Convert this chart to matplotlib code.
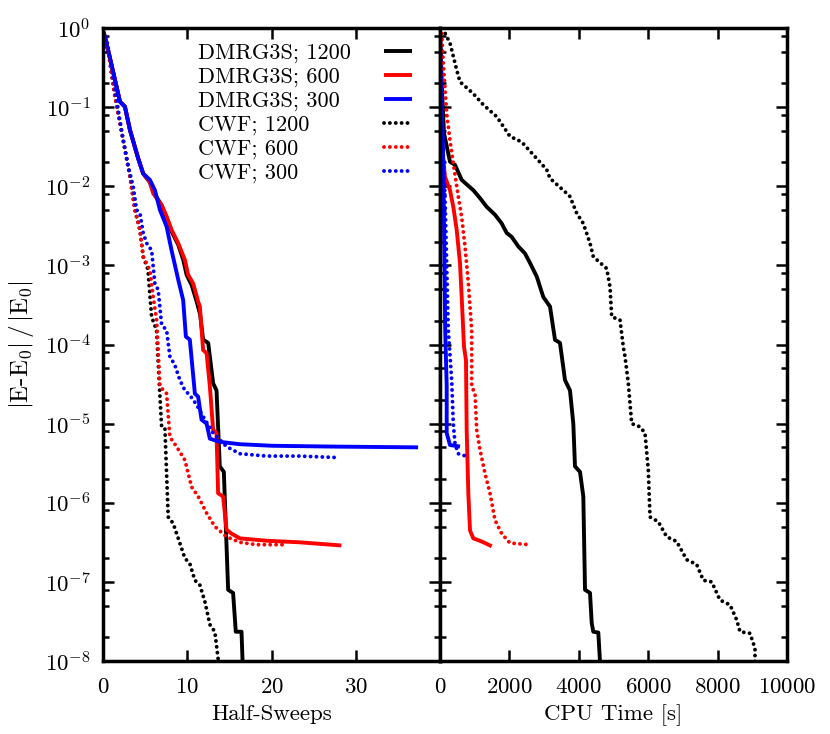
import numpy as np
import matplotlib
matplotlib.use('Agg')
from matplotlib import pyplot as plt
from matplotlib.ticker import NullLocator, FixedLocator

# Fonts: computer-modern look like the gnuplot/latex original
plt.rcParams['font.family'] = ['cmr10']
plt.rcParams['mathtext.fontset'] = 'cm'
plt.rcParams['axes.unicode_minus'] = False
plt.rcParams['axes.formatter.use_mathtext'] = True

# Values: x and log10(|E-E0|/|E0|)
# ---- left panel: half-sweeps ----
sw_dmrg_1200 = [0, 0.2, 1.98, 2.57, 3.17, 4.15, 4.74, 5.54, 5.93, 6.93, 7.52, 8.11, 8.9, 9.5, 9.9,
                10.5, 11.1, 11.5, 11.86, 12.46, 13.05, 13.45, 13.84, 14.32, 14.83, 15.42, 15.74,
                16.42, 16.54, 16.6]
lg_dmrg_1200 = [-0.05, -0.11, -0.93, -0.995, -1.29, -1.65, -1.84, -1.95, -2.07, -2.24, -2.40, -2.57,
                -2.74, -2.93, -3.12, -3.25, -3.46, -3.62, -3.94, -3.98, -4.49, -4.58, -5.54, -5.61,
                -7.10, -7.14, -7.63, -7.63, -7.99, -8.2]
sw_dmrg_600 = [0, 0.2, 1.98, 2.57, 3.17, 4.15, 4.74, 5.54, 5.93, 6.93, 7.52, 8.11, 8.9, 9.69, 10.08,
               10.68, 11.27, 11.47, 11.86, 12.27, 12.66, 13.05, 13.45, 13.64, 14.23, 14.64, 15.23,
               16.22, 19.38, 23.33, 28.28]
lg_dmrg_600 = [-0.05, -0.11, -0.93, -0.995, -1.29, -1.65, -1.84, -1.95, -2.09, -2.24, -2.38, -2.55,
               -2.72, -2.93, -3.12, -3.23, -3.46, -3.52, -4.07, -4.11, -4.53, -5.08, -5.12, -5.88,
               -5.92, -6.34, -6.39, -6.45, -6.48, -6.50, -6.54]
sw_dmrg_300 = [0, 0.2, 1.98, 2.57, 3.17, 4.15, 4.74, 5.54, 6.13, 6.73, 7.52, 8.11, 8.9, 9.49, 9.81,
               10.28, 10.88, 11.27, 11.67, 12.27, 12.66, 13.84, 16.2, 20.1, 27.2, 37.4]
lg_dmrg_300 = [-0.05, -0.11, -0.93, -0.995, -1.29, -1.65, -1.84, -1.92, -2.05, -2.30, -2.51, -2.81,
               -3.18, -3.44, -3.90, -3.94, -4.62, -4.66, -4.95, -5.0, -5.19, -5.23, -5.26, -5.28,
               -5.29, -5.30]
sw_cwf_1200 = [0, 0.4, 1.39, 2.37, 3.17, 3.76, 4.35, 4.74, 5.3, 5.74, 6.33, 6.73, 6.93, 7.32, 7.71,
               8.3, 8.9, 9.69, 10.28, 10.88, 11.47, 12.07, 12.66, 13.25, 13.64, 13.7]
lg_cwf_1200 = [-0.05, -0.15, -0.87, -1.42, -1.88, -2.30, -2.55, -2.89, -3.05, -3.65, -3.82, -4.66,
               -5.04, -5.06, -6.18, -6.26, -6.45, -6.70, -6.77, -6.98, -7.04, -7.25, -7.54, -7.63,
               -7.97, -8.2]
sw_cwf_600 = [0, 0.4, 1.39, 2.37, 3.17, 3.76, 4.35, 4.74, 5.54, 5.93, 6.33, 6.73, 7.52, 7.91, 8.7,
              9.69, 10.49, 11.27, 12.27, 13.25, 14.64, 16.22, 18.2, 21.55]
lg_cwf_600 = [-0.05, -0.15, -0.87, -1.42, -1.88, -2.30, -2.55, -2.89, -3.06, -3.40, -3.69, -4.53,
              -4.62, -5.17, -5.29, -5.46, -5.80, -5.92, -6.13, -6.30, -6.43, -6.50, -6.53, -6.53]
sw_cwf_300 = [0, 0.4, 1.19, 1.78, 2.37, 2.97, 3.56, 3.96, 4.35, 4.74, 5.15, 5.74, 6.13, 6.52, 6.93,
              7.52, 7.91, 8.5, 9.1, 9.69, 10.28, 11.08, 11.86, 13.05, 14.64, 16.22, 19.38, 23.33,
              28.07]
lg_cwf_300 = [-0.05, -0.15, -0.62, -1.04, -1.42, -1.75, -2.01, -2.30, -2.34, -2.59, -2.72, -2.81,
              -3.23, -3.31, -3.75, -3.82, -4.15, -4.26, -4.45, -4.58, -4.64, -4.76, -4.91, -5.12,
              -5.29, -5.38, -5.41, -5.41, -5.43]

# ---- right panel: CPU time [s] ----
t_dmrg_1200 = [0, 60, 115, 288, 432, 625, 960, 1153, 1346, 1585, 1778, 1922, 2066, 2256, 2450, 2594,
               2787, 2977, 3170, 3314, 3458, 3602, 3746, 3842, 3890, 4035, 4130, 4179, 4323, 4372,
               4418, 4562, 4611, 4620]
lg_t_dmrg_1200 = [-0.05, -0.8, -1.33, -1.69, -1.73, -1.92, -2.05, -2.15, -2.26, -2.36, -2.47, -2.59,
                  -2.64, -2.76, -2.85, -2.97, -3.14, -3.40, -3.52, -3.94, -3.98, -4.45, -4.58, -5.0,
                  -5.54, -5.61, -5.92, -7.10, -7.14, -7.52, -7.63, -7.64, -8.01, -8.2]
t_dmrg_600 = [0, 30, 80, 144, 288, 383, 481, 576, 625, 692, 749, 769, 816, 865, 960, 1202, 1490]
lg_t_dmrg_600 = [-0.05, -1.0, -1.6, -1.88, -2.05, -2.26, -2.55, -2.97, -3.40, -4.03, -4.20, -5.08,
                 -5.88, -6.35, -6.45, -6.49, -6.55]
t_dmrg_300 = [0, 50, 95, 150, 193, 193, 288, 576]
lg_t_dmrg_300 = [-0.05, -1.0, -1.71, -3.82, -4.53, -5.12, -5.27, -5.29]
t_cwf_1200 = [150, 288, 481, 576, 960, 1248, 1634, 2017, 2354, 2787, 3075, 3170, 3602, 3746, 3939,
              4130, 4323, 4418, 4804, 4899, 4948, 5187, 5282, 5331, 5427, 5524, 5764, 5908, 6003,
              6052, 6291, 6533, 6821, 7110, 7398, 7588, 7830, 8069, 8357, 8550, 8646, 8934, 9078,
              9078]
lg_t_cwf_1200 = [-0.07, -0.19, -0.53, -0.68, -0.83, -0.97, -1.12, -1.37, -1.44, -1.65, -1.79, -1.90,
                 -2.07, -2.13, -2.34, -2.47, -2.72, -2.89, -3.04, -3.27, -3.65, -3.69, -4.03, -4.15,
                 -4.49, -5.0, -5.04, -5.12, -5.59, -6.18, -6.24, -6.43, -6.49, -6.72, -6.78, -6.98,
                 -7.0, -7.23, -7.29, -7.48, -7.63, -7.65, -7.84, -8.1]
t_cwf_600 = [0, 49, 95, 193, 288, 383, 527, 625, 720, 816, 914, 914, 1009, 1058, 1153, 1297, 1441,
             1585, 1778, 2017, 2594]
lg_t_cwf_600 = [0.0, -0.07, -0.45, -1.08, -1.42, -1.71, -2.13, -2.39, -2.76, -3.22, -3.82, -4.53,
                -4.62, -5.08, -5.33, -5.63, -5.88, -6.22, -6.39, -6.51, -6.53]
t_cwf_300 = [0, 60, 144, 239, 337, 383, 432, 527, 816]
lg_t_cwf_300 = [-0.05, -1.2, -2.13, -3.82, -4.45, -5.0, -5.25, -5.38, -5.42]

labels = ['DMRG3S; 1200', 'DMRG3S; 600', 'DMRG3S; 300', 'CWF; 1200', 'CWF; 600', 'CWF; 300']
colors_ = ['black', 'red', 'blue', 'black', 'red', 'blue']

left_series = [(sw_dmrg_1200, lg_dmrg_1200), (sw_dmrg_600, lg_dmrg_600), (sw_dmrg_300, lg_dmrg_300),
               (sw_cwf_1200, lg_cwf_1200), (sw_cwf_600, lg_cwf_600), (sw_cwf_300, lg_cwf_300)]
right_series = [(t_dmrg_1200, lg_t_dmrg_1200), (t_dmrg_600, lg_t_dmrg_600), (t_dmrg_300, lg_t_dmrg_300),
                (t_cwf_1200, lg_t_cwf_1200), (t_cwf_600, lg_t_cwf_600), (t_cwf_300, lg_t_cwf_300)]

fs = 16.5
lw = 2.8
dots = (0, (0.01, 1.5))

# y ticks only inside the range 1e-8 .. 1 (decades plus 2,5,8 minor marks)
decades = 10.0**np.arange(-8, 1)
minor_y = np.concatenate([d*np.array([2.0, 5.0, 8.0]) for d in decades[:-1]])

fig = plt.figure(figsize=(8.3, 7.34), dpi=100)
W, H = 830.0, 734.0
ax1 = fig.add_axes([103.3/W, 73/H, 336.7/W, 633/H])
ax2 = fig.add_axes([440/W, 73/H, 347/W, 633/H])

for ax, series in [(ax1, left_series), (ax2, right_series)]:
    for i, (xs, lgs) in enumerate(series):
        ys = 10.0**np.array(lgs)
        ls = '-' if i < 3 else dots
        ax.plot(xs, ys, color=colors_[i], lw=lw, ls=ls, solid_capstyle='butt',
                dash_capstyle='round')
    ax.set_yscale('log')
    ax.set_ylim(1e-8, 1)
    ax.yaxis.set_major_locator(FixedLocator(decades))
    ax.yaxis.set_minor_locator(FixedLocator(minor_y))
    ax.xaxis.set_minor_locator(NullLocator())
    ax.tick_params(which='both', direction='in', top=True, right=True, width=1.8,
                   labelsize=fs, pad=12)
    ax.tick_params(which='major', length=8)
    ax.tick_params(which='minor', length=4.5)
    ax.tick_params(axis='y', pad=9)
    for sp in ax.spines.values():
        sp.set_linewidth(2.5)

ax1.set_xlim(0, 40)
ax1.xaxis.set_major_locator(FixedLocator([0, 10, 20, 30]))
ax2.set_xlim(0, 10000)
ax2.xaxis.set_major_locator(FixedLocator([0, 2000, 4000, 6000, 8000, 10000]))
ax2.tick_params(labelleft=False)

ax1.set_xlabel('Half-Sweeps', fontsize=fs, labelpad=5)
ax2.set_xlabel('CPU Time [s]', fontsize=fs, labelpad=5)
ax1.set_ylabel(r'$|\mathrm{E}$-$\mathrm{E}_0|\,/\,|\mathrm{E}_0|$', fontsize=18, labelpad=6)

# gnuplot-style key: labels left aligned, line samples to the right
key_x_text = 0.28
key_x_line = (0.833, 0.917)
key_y_top = 0.963
key_dy = 0.0379
for i, lab in enumerate(labels):
    yk = key_y_top - i*key_dy
    ls = '-' if i < 3 else dots
    ax1.plot(key_x_line, [yk, yk], transform=ax1.transAxes, color=colors_[i], lw=lw, ls=ls,
             solid_capstyle='butt', dash_capstyle='round', clip_on=False)
    ax1.text(key_x_text, yk, lab, transform=ax1.transAxes, fontsize=16, va='center_baseline',
             ha='left')

fig.savefig('out.png', dpi=100)
